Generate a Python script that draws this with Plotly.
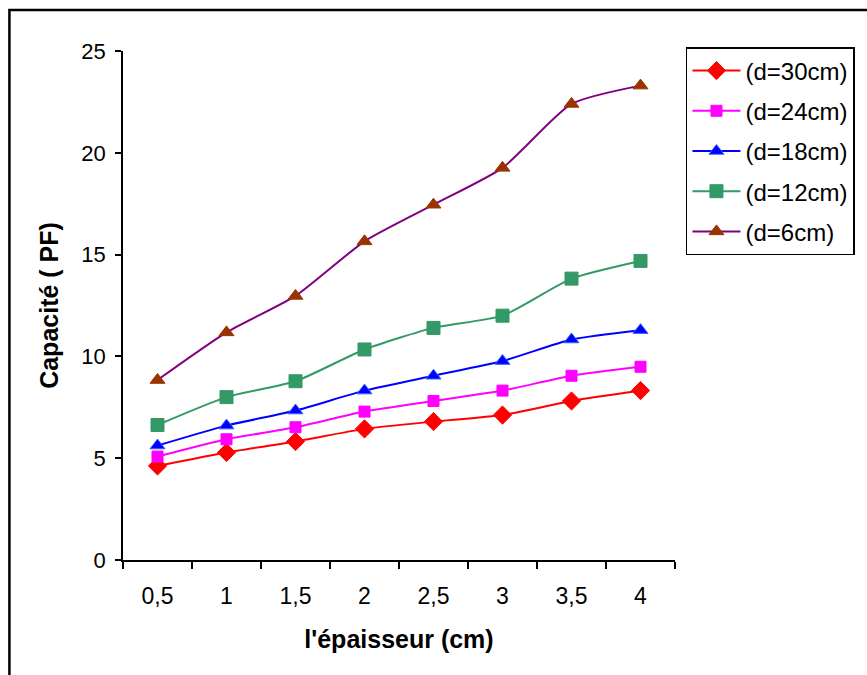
import plotly.graph_objects as go

# Épaisseur du diélectrique (cm) et capacité mesurée (pF) pour chaque distance d
epaisseur = ["0,5", "1", "1,5", "2", "2,5", "3", "3,5", "4"]

cap_d30 = [4.62, 5.28, 5.82, 6.44, 6.80, 7.12, 7.81, 8.32]
cap_d24 = [5.08, 5.93, 6.52, 7.29, 7.81, 8.32, 9.05, 9.49]
cap_d18 = [5.62, 6.60, 7.34, 8.32, 9.05, 9.77, 10.83, 11.29]
cap_d12 = [6.63, 8.00, 8.78, 10.34, 11.40, 12.00, 13.82, 14.69]
cap_d6 = [8.84, 11.18, 12.97, 15.65, 17.45, 19.26, 22.40, 23.30]

noms = ["(d=30cm)", "(d=24cm)", "(d=18cm)", "(d=12cm)", "(d=6cm)"]

series = [
    (cap_d30, "#FF0000", "diamond", "#FF0000", "#FF0000", 14),
    (cap_d24, "#FF00FF", "square", "#FF00FF", "#FF00FF", 11),
    (cap_d18, "#0000FF", "triangle-up", "#0000FF", "#3366FF", 13),
    (cap_d12, "#339966", "square", "#339966", "#339966", 13),
    (cap_d6, "#800080", "triangle-up", "#993300", "#993300", 13),
]

FONT = "Liberation Sans, Arial, sans-serif"

fig = go.Figure()
for i, (vals, lcol, sym, mcol, ecol, msize) in enumerate(series):
    fig.add_trace(go.Scatter(
        x=epaisseur, y=vals, name=noms[i],
        mode="lines+markers",
        line=dict(color=lcol, width=2, shape="spline", smoothing=0.6),
        marker=dict(symbol=sym, color=mcol, size=msize,
                    line=dict(color=ecol, width=1)),
        legendgroup=f"g{i}",
    ))

# Plot area spans x 123..677 px, y 51..560 px
L, R, T, B = 123, 677, 51.0, 560.5
W, H = 867, 675
pw, ph = R - L, B - T

def px(x):
    return (x - L) / pw

def py(y):
    return (B - y) / ph

fig.update_layout(
    width=W, height=H,
    margin=dict(l=L, r=W - R, t=T, b=H - B),
    paper_bgcolor="white", plot_bgcolor="white",
    font=dict(family=FONT, size=22, color="black"),
    showlegend=True,
    legend=dict(
        x=px(688), y=py(47), xanchor="left", yanchor="top",
        bordercolor="black", borderwidth=1.5, bgcolor="white",
        font=dict(family=FONT, size=24, color="black"),
        tracegroupgap=6, traceorder="grouped",
        itemwidth=48,
    ),
    xaxis=dict(
        type="category", showgrid=False, zeroline=False,
        showline=True, linecolor="black", linewidth=1.5,
        ticks="outside", tickson="boundaries", ticklen=7,
        tickcolor="black", tickwidth=1.5,
        tickfont=dict(size=23), ticklabelstandoff=15,
        title=dict(text="<b>l'épaisseur (cm)</b>", font=dict(size=25), standoff=22),
        range=[-0.5, 7.5],
    ),
    yaxis=dict(
        range=[0, 25], dtick=5, showgrid=False, zeroline=False,
        showline=True, linecolor="black", linewidth=1.5,
        ticks="outside", ticklen=6, tickcolor="black", tickwidth=1.5,
        tickfont=dict(size=22), ticklabelstandoff=5,
        title=dict(text="<b>Capacité ( PF)</b>", font=dict(size=25), standoff=16),
    ),
    shapes=[dict(
        type="rect", xref="paper", yref="paper",
        x0=px(9), x1=px(890), y0=py(700), y1=py(10),
        line=dict(color="black", width=2.5), fillcolor="rgba(0,0,0,0)",
        layer="below",
    )],
)

fig.write_html("out.html")
